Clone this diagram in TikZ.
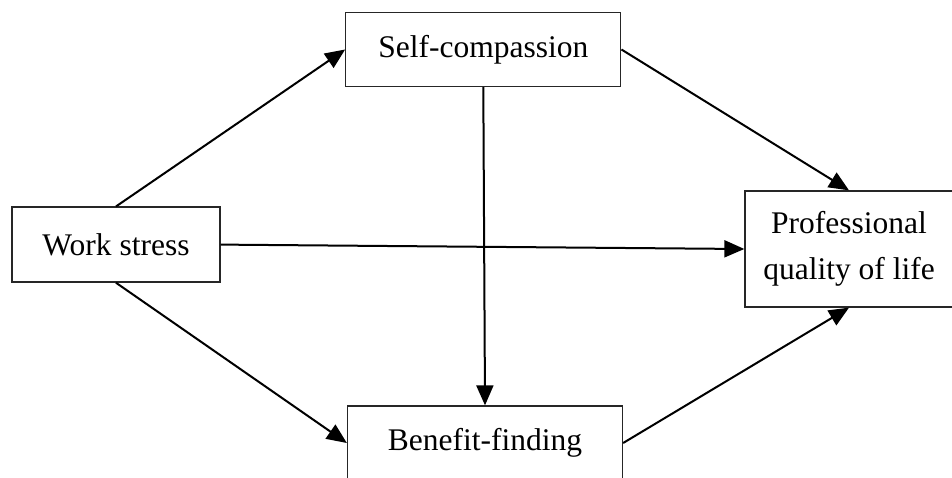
\documentclass[tikz,border=0pt]{standalone}
\usepackage{fontspec}
\setmainfont{Liberation Serif}
\usepackage{tikz}
\usetikzlibrary{arrows.meta, positioning}

\begin{document}
\begin{tikzpicture}[
  x=1pt, y=-1pt,
  box/.style={rectangle, draw=black!85, fill=white, line width=1.3pt, align=center, font=\fontsize{31.5}{46}\selectfont, inner sep=0pt},
  arrow/.style={-{Triangle[length=20pt, width=17pt]}, line width=2pt, black}
]
  \useasboundingbox (0,0) rectangle (952,478);

  \node[box, minimum width=208pt, minimum height=75pt] (ws) at (116,244.6) {Work stress};
  \node[box, minimum width=275pt, minimum height=74pt] (sc) at (483.3,49.5) {Self-compassion};
  \node[box, minimum width=275pt, minimum height=74pt] (bf) at (485,443) {Benefit-finding};
  \node[box, minimum width=208pt, minimum height=116pt] (pq) at (849,249) {Professional\\quality of life};

  \draw[arrow] (ws.north) -- (sc.west);
  \draw[arrow] (ws.south) -- (bf.west);
  \draw[arrow] (ws.east) -- (pq.west);
  \draw[arrow] (sc.south) -- (bf.north);
  \draw[arrow] (sc.east) -- (pq.north);
  \draw[arrow] (bf.east) -- (pq.south);
\end{tikzpicture}
\end{document}
